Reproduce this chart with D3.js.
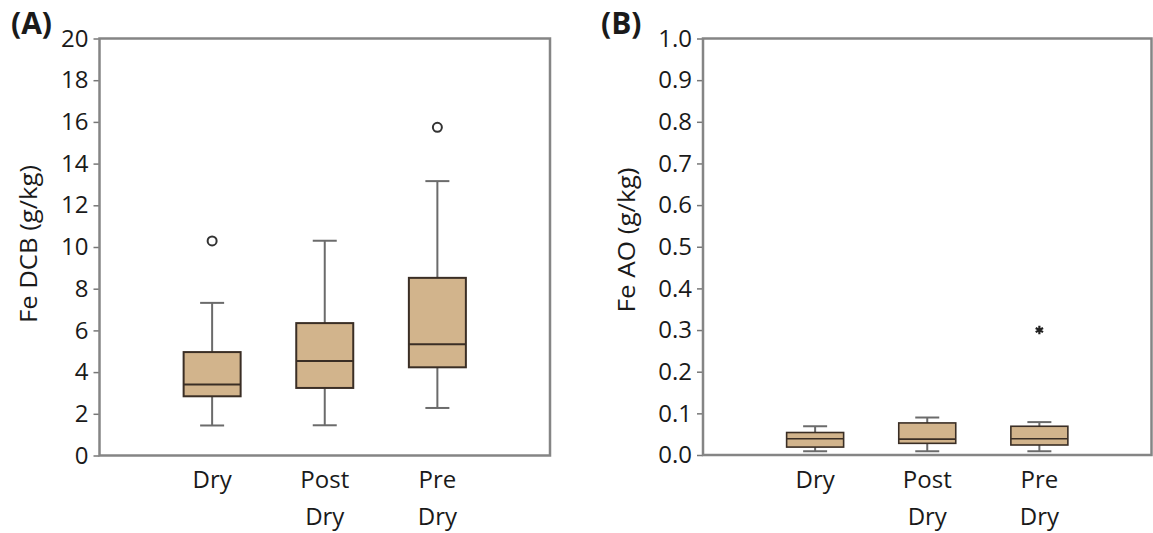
<!DOCTYPE html>
<html>
<head>
<meta charset="utf-8">
<script src="https://cdn.jsdelivr.net/npm/d3@7"></script>
<style>
  body { margin: 0; background: #fff; }
  svg text { font-family: "Open Sans", sans-serif; fill: #1a1a1a; }
</style>
</head>
<body>
<svg id="chart" width="1153" height="533"></svg>
<script>
// categories (second word goes on a second line)
const categories = ['Dry', 'Post Dry', 'Pre Dry'];

// panel A: Fe DCB (g/kg)
const dcbMin = [1.44, 1.45, 2.28];
const dcbQ1 = [2.84, 3.24, 4.23];
const dcbMedian = [3.40, 4.53, 5.34];
const dcbQ3 = [4.96, 6.35, 8.52];
const dcbMax = [7.32, 10.3, 13.16];
const dcbOutliers = [[10.29], [], [15.74]];
const dcbExtremes = [[], [], []];
const dcbTicks = [0, 2, 4, 6, 8, 10, 12, 14, 16, 18, 20];

// panel B: Fe AO (g/kg)
const aoMin = [0.009, 0.009, 0.009];
const aoQ1 = [0.019, 0.028, 0.024];
const aoMedian = [0.039, 0.038, 0.039];
const aoQ3 = [0.054, 0.077, 0.069];
const aoMax = [0.069, 0.09, 0.079];
const aoOutliers = [[], [], []];
const aoExtremes = [[], [], [0.30]];
const aoTicks = [0, 0.1, 0.2, 0.3, 0.4, 0.5, 0.6, 0.7, 0.8, 0.9, 1.0];

const svg = d3.select('#chart');

function drawPanel(cfg) {
  const m = cfg.frame;
  const g = svg.append('g');

  const x = d3.scalePoint()
    .domain(categories)
    .range([m.left, m.right])
    .padding(1);

  const y = d3.scaleLinear()
    .domain(cfg.domain)
    .range([m.bottom, m.top]);

  const rows = categories.map((c, i) => ({
    cat: c,
    min: cfg.min[i], q1: cfg.q1[i], med: cfg.median[i], q3: cfg.q3[i], max: cfg.max[i],
    out: cfg.outliers[i], ext: cfg.extremes[i]
  }));

  const boxW = 57, capW = 24;

  // y axis
  const yAxis = d3.axisLeft(y)
    .tickValues(cfg.ticks)
    .tickSize(6)
    .tickPadding(5)
    .tickFormat(cfg.fmt);

  g.append('g')
    .attr('transform', `translate(${m.left},0)`)
    .call(yAxis)
    .call(a => a.select('.domain').remove())
    .call(a => a.selectAll('.tick line').attr('stroke', '#777').attr('stroke-width', 1.5))
    .call(a => a.selectAll('.tick text')
      .attr('font-size', 24)
      .attr('font-family', '"Open Sans", sans-serif')
      .attr('fill', '#151515'));

  // whiskers
  g.selectAll('.whisker')
    .data(rows)
    .join('line')
    .attr('class', 'whisker')
    .attr('x1', d => x(d.cat)).attr('x2', d => x(d.cat))
    .attr('y1', d => y(d.min)).attr('y2', d => y(d.max))
    .attr('stroke', '#6b6b6b').attr('stroke-width', 2);

  ['min', 'max'].forEach(k => {
    g.selectAll('.cap-' + k)
      .data(rows)
      .join('line')
      .attr('class', 'cap-' + k)
      .attr('x1', d => x(d.cat) - capW / 2).attr('x2', d => x(d.cat) + capW / 2)
      .attr('y1', d => y(d[k])).attr('y2', d => y(d[k]))
      .attr('stroke', '#6b6b6b').attr('stroke-width', 2);
  });

  // boxes
  g.selectAll('.box')
    .data(rows)
    .join('rect')
    .attr('class', 'box')
    .attr('x', d => x(d.cat) - boxW / 2)
    .attr('width', boxW)
    .attr('y', d => y(d.q3))
    .attr('height', d => y(d.q1) - y(d.q3))
    .attr('fill', '#d2b48c')
    .attr('stroke', '#3a2e25')
    .attr('stroke-width', cfg.boxStroke);

  g.selectAll('.median')
    .data(rows)
    .join('line')
    .attr('class', 'median')
    .attr('x1', d => x(d.cat) - boxW / 2).attr('x2', d => x(d.cat) + boxW / 2)
    .attr('y1', d => y(d.med)).attr('y2', d => y(d.med))
    .attr('stroke', '#3a2e25').attr('stroke-width', cfg.boxStroke);

  // outliers (circles) and extremes (asterisks)
  const outs = rows.flatMap(d => d.out.map(v => ({ cat: d.cat, v })));
  g.selectAll('.outlier')
    .data(outs)
    .join('circle')
    .attr('class', 'outlier')
    .attr('cx', d => x(d.cat)).attr('cy', d => y(d.v))
    .attr('r', 4.5)
    .attr('fill', '#fff')
    .attr('stroke', '#333').attr('stroke-width', 2);

  const exts = rows.flatMap(d => d.ext.map(v => ({ cat: d.cat, v })));
  g.selectAll('.extreme')
    .data(exts)
    .join('path')
    .attr('class', 'extreme')
    .attr('transform', d => `translate(${x(d.cat)},${y(d.v)})`)
    .attr('d', d3.symbol(d3.symbolAsterisk, 50))
    .attr('stroke', '#222').attr('stroke-width', 2.2);

  // frame
  g.append('rect')
    .attr('x', m.left).attr('y', m.top)
    .attr('width', m.right - m.left).attr('height', m.bottom - m.top)
    .attr('fill', 'none')
    .attr('stroke', '#858585').attr('stroke-width', 2.5);

  // category labels
  const lab = g.selectAll('.cat-label')
    .data(categories)
    .join('text')
    .attr('class', 'cat-label')
    .attr('text-anchor', 'middle')
    .attr('font-size', 24);
  lab.selectAll('tspan')
    .data(d => d.split(' ').map(w => ({ w, c: d })))
    .join('tspan')
    .attr('x', d => x(d.c))
    .attr('y', (d, i) => 488 + i * 37)
    .text(d => d.w);

  // y title
  g.append('text')
    .attr('transform', `translate(${cfg.titleX},${cfg.titleY}) rotate(-90)`)
    .attr('text-anchor', 'middle')
    .attr('font-size', 23)
    .attr('textLength', cfg.titleLen)
    .attr('lengthAdjust', 'spacingAndGlyphs')
    .text(cfg.title);

  // panel letter
  g.append('text')
    .attr('x', cfg.letterX).attr('y', 34)
    .attr('font-size', 30)
    .attr('font-weight', 'bold')
    .text(cfg.letter);
}

drawPanel({
  frame: { left: 99.5, right: 550, top: 38.5, bottom: 455.5 },
  domain: [0, 20],
  ticks: dcbTicks,
  fmt: d3.format('d'),
  min: dcbMin, q1: dcbQ1, median: dcbMedian, q3: dcbQ3, max: dcbMax,
  outliers: dcbOutliers, extremes: dcbExtremes,
  boxStroke: 2,
  title: 'Fe DCB (g/kg)', titleX: 37, titleY: 244, titleLen: 158,
  letter: '(A)', letterX: 11
});

drawPanel({
  frame: { left: 703, right: 1151.5, top: 38.5, bottom: 455 },
  domain: [0, 1],
  ticks: aoTicks,
  fmt: d3.format('.1f'),
  min: aoMin, q1: aoQ1, median: aoMedian, q3: aoQ3, max: aoMax,
  outliers: aoOutliers, extremes: aoExtremes,
  boxStroke: 1.6,
  title: 'Fe AO (g/kg)', titleX: 635, titleY: 240, titleLen: 145,
  letter: '(B)', letterX: 601
});
</script>
</body>
</html>
